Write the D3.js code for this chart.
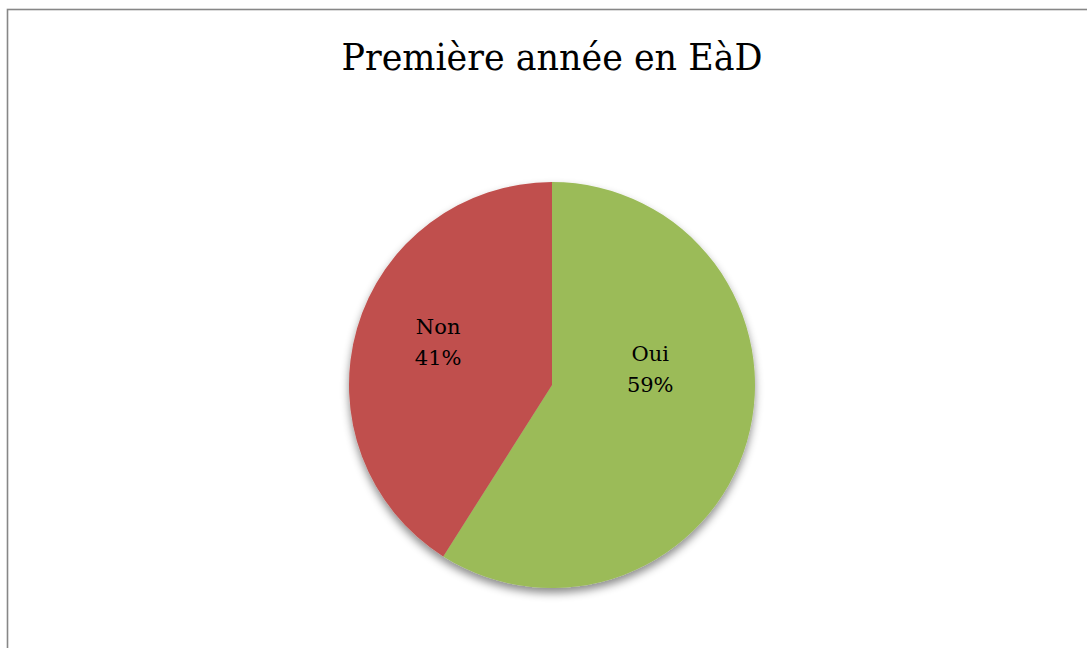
<!DOCTYPE html>
<html><head><meta charset="utf-8">
<script src="https://cdn.jsdelivr.net/npm/d3@7"></script>
<style>html,body{margin:0;padding:0;background:#fff;overflow:hidden}</style>
</head><body>
<svg id="c" width="1087" height="648"></svg>
<script>
const categories = ["Oui", "Non"];
const values = [59, 41];
const colors = ["#9BBB59", "#C0504D"];
const title = "Première année en EàD";

const svg = d3.select("#c");
const defs = svg.append("defs");
const f = defs.append("filter").attr("id","sh").attr("x","-20%").attr("y","-20%").attr("width","140%").attr("height","140%");
f.append("feDropShadow").attr("dx",0).attr("dy",5).attr("stdDeviation",4).attr("flood-color","#000").attr("flood-opacity",0.45);

svg.append("rect").attr("x",7.5).attr("y",9.5).attr("width",1100).attr("height",700)
  .attr("fill","#fff").attr("stroke","#878787").attr("stroke-width",1.6);

svg.append("text").attr("x",552).attr("y",70).attr("text-anchor","middle")
  .attr("font-family","'DejaVu Serif', serif").attr("font-size",37).attr("fill","#000")
  .attr("textLength",421).attr("lengthAdjust","spacingAndGlyphs").text(title);

const cx = 552, cy = 385, R = 203;
const pie = d3.pie().sort(null).value(d => d)(values);
const arc = d3.arc().innerRadius(0).outerRadius(R);
const g = svg.append("g").attr("transform",`translate(${cx},${cy})`);
const pg = g.append("g").attr("filter","url(#sh)");
pg.selectAll("path").data(pie).join("path").attr("d",arc).attr("fill",(d,i)=>colors[i]);

// label placement (Excel best-fit approximation)
const labelR = [0.49, 0.6], labelShift = [-0.44, 0.08];
pie.forEach((d,i)=>{
  const a = (d.startAngle+d.endAngle)/2 + labelShift[i];
  const r = R*labelR[i];
  const x = r*Math.sin(a), y = -r*Math.cos(a);
  const t = g.append("text").attr("text-anchor","middle").attr("font-family","'DejaVu Serif', serif")
    .attr("font-size",21).attr("fill","#000");
  t.append("tspan").attr("x",x).attr("y",y-8).text(categories[i]);
  t.append("tspan").attr("x",x).attr("y",y+23).text(Math.round(d.value/d3.sum(values)*100)+"%");
});
</script>
</body></html>
